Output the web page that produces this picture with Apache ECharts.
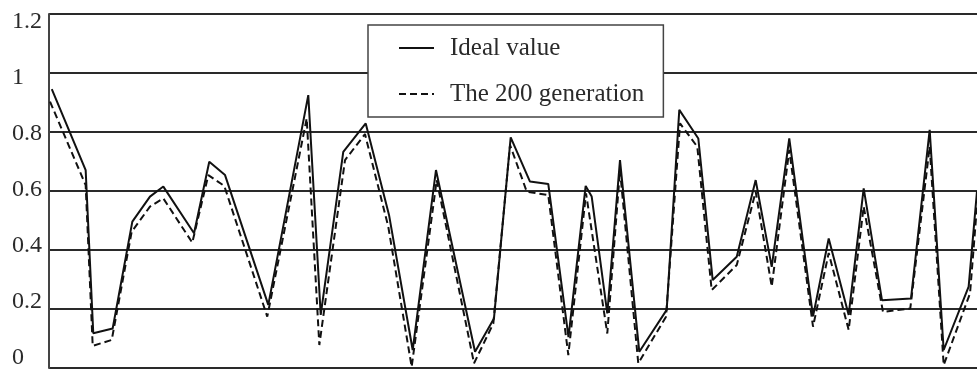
<!DOCTYPE html>
<html>
<head>
<meta charset="utf-8">
<script src="https://cdn.jsdelivr.net/npm/echarts@6/dist/echarts.min.js"></script>
<style>html,body{margin:0;padding:0;background:#fff;}#c{width:977px;height:370px;}</style>
</head>
<body>
<div id="c"></div>
<script>
const idealX = [0.3, 3.95, 4.77, 6.86, 8.98, 10.88, 12.32, 15.63, 17.27, 18.97, 23.63, 27.94, 29.28, 31.71, 34.13, 36.64, 39.19, 41.70, 45.91, 47.95, 49.75, 51.83, 53.80, 55.98, 57.83, 58.48, 60.16, 61.53, 63.61, 66.56, 67.92, 69.97, 71.52, 74.11, 76.15, 77.88, 79.77, 82.33, 84.02, 86.17, 87.79, 89.76, 92.89, 94.90, 96.41, 99.10, 100];
const idealY = [0.945, 0.671, 0.118, 0.134, 0.496, 0.581, 0.615, 0.457, 0.699, 0.654, 0.214, 0.925, 0.18, 0.733, 0.829, 0.519, 0.061, 0.671, 0.055, 0.168, 0.782, 0.632, 0.624, 0.105, 0.617, 0.581, 0.185, 0.705, 0.055, 0.197, 0.875, 0.778, 0.298, 0.377, 0.637, 0.343, 0.778, 0.175, 0.439, 0.18, 0.609, 0.23, 0.236, 0.807, 0.061, 0.276, 0.6];
const genX = [0.11, 3.95, 4.71, 6.76, 8.91, 10.88, 12.32, 15.44, 17.17, 18.89, 23.52, 27.77, 29.13, 31.90, 34.05, 36.56, 39.08, 41.78, 45.80, 47.88, 49.68, 51.48, 53.80, 55.96, 57.87, 60.16, 61.53, 63.50, 66.49, 68.00, 69.86, 71.41, 74.11, 76.15, 77.88, 79.77, 82.33, 84.02, 86.17, 87.79, 89.87, 92.81, 94.90, 96.41, 99.25, 100];
const genY = [0.903, 0.62, 0.075, 0.095, 0.462, 0.547, 0.575, 0.425, 0.654, 0.617, 0.174, 0.846, 0.078, 0.705, 0.793, 0.479, 0.004, 0.637, 0.016, 0.151, 0.756, 0.598, 0.586, 0.044, 0.592, 0.117, 0.671, 0.016, 0.174, 0.829, 0.75, 0.264, 0.349, 0.598, 0.276, 0.739, 0.14, 0.39, 0.129, 0.547, 0.19, 0.202, 0.75, 0.01, 0.253, 0.55];
const seriesNames = ['Ideal value', 'The 200 generation'];
const yTicks = [0, 0.2, 0.4, 0.6, 0.8, 1, 1.2];

const zip = (xs, ys) => xs.map((x, i) => [x, ys[i]]);
const font = '"Liberation Serif", "Times New Roman", serif';

const chart = echarts.init(document.getElementById('c'), null, {renderer: 'canvas'});
chart.setOption({
  animation: false,
  backgroundColor: '#fff',
  grid: [
    {left: 49, right: 0, top: 14, bottom: 2, containLabel: false},
    {left: 49, right: 0, top: 22, bottom: 9, containLabel: false}
  ],
  xAxis: [
    {type: 'value', gridIndex: 0, min: 0, max: 100, axisLine: {show: false}, axisTick: {show: false}, axisLabel: {show: false}, splitLine: {show: false}},
    {type: 'value', gridIndex: 1, min: 0, max: 100, show: false}
  ],
  yAxis: [
    {type: 'value', gridIndex: 0, min: yTicks[0], max: yTicks[yTicks.length - 1], interval: 0.2,
     axisLine: {show: true, lineStyle: {color: '#444', width: 2}}, axisTick: {show: false}, axisLabel: {show: false},
     splitLine: {show: true, lineStyle: {color: '#2a2a2a', width: 2}}},
    {type: 'value', gridIndex: 1, min: yTicks[0], max: yTicks[yTicks.length - 1], interval: 0.2,
     axisLine: {show: false}, axisTick: {show: false}, splitLine: {show: false},
     axisLabel: {show: true, align: 'left', margin: 37, color: '#2a2a2a', fontFamily: font, fontSize: 24,
       formatter: v => String(Math.round(v * 10) / 10)}}
  ],
  legend: {
    left: 368, top: 25, orient: 'vertical',
    backgroundColor: '#fff', borderColor: '#444', borderWidth: 1.5, borderRadius: 0,
    padding: [8, 19, 8, 30],
    itemWidth: 35, itemHeight: 14, itemGap: 16,
    itemStyle: {opacity: 0},
    textStyle: {fontFamily: font, fontSize: 25, color: '#2a2a2a', lineHeight: 30, padding: [0, 0, 0, 11]},
    data: seriesNames
  },
  series: [
    {name: seriesNames[0], type: 'line', xAxisIndex: 0, yAxisIndex: 0, data: zip(idealX, idealY), symbol: 'none',
     lineStyle: {color: '#111', width: 2, type: 'solid'}, itemStyle: {color: '#111'}, z: 3},
    {name: seriesNames[1], type: 'line', xAxisIndex: 0, yAxisIndex: 0, data: zip(genX, genY), symbol: 'none',
     lineStyle: {color: '#111', width: 2, type: [7, 4]}, itemStyle: {color: '#111'}, z: 2}
  ]
});
</script>
</body>
</html>
